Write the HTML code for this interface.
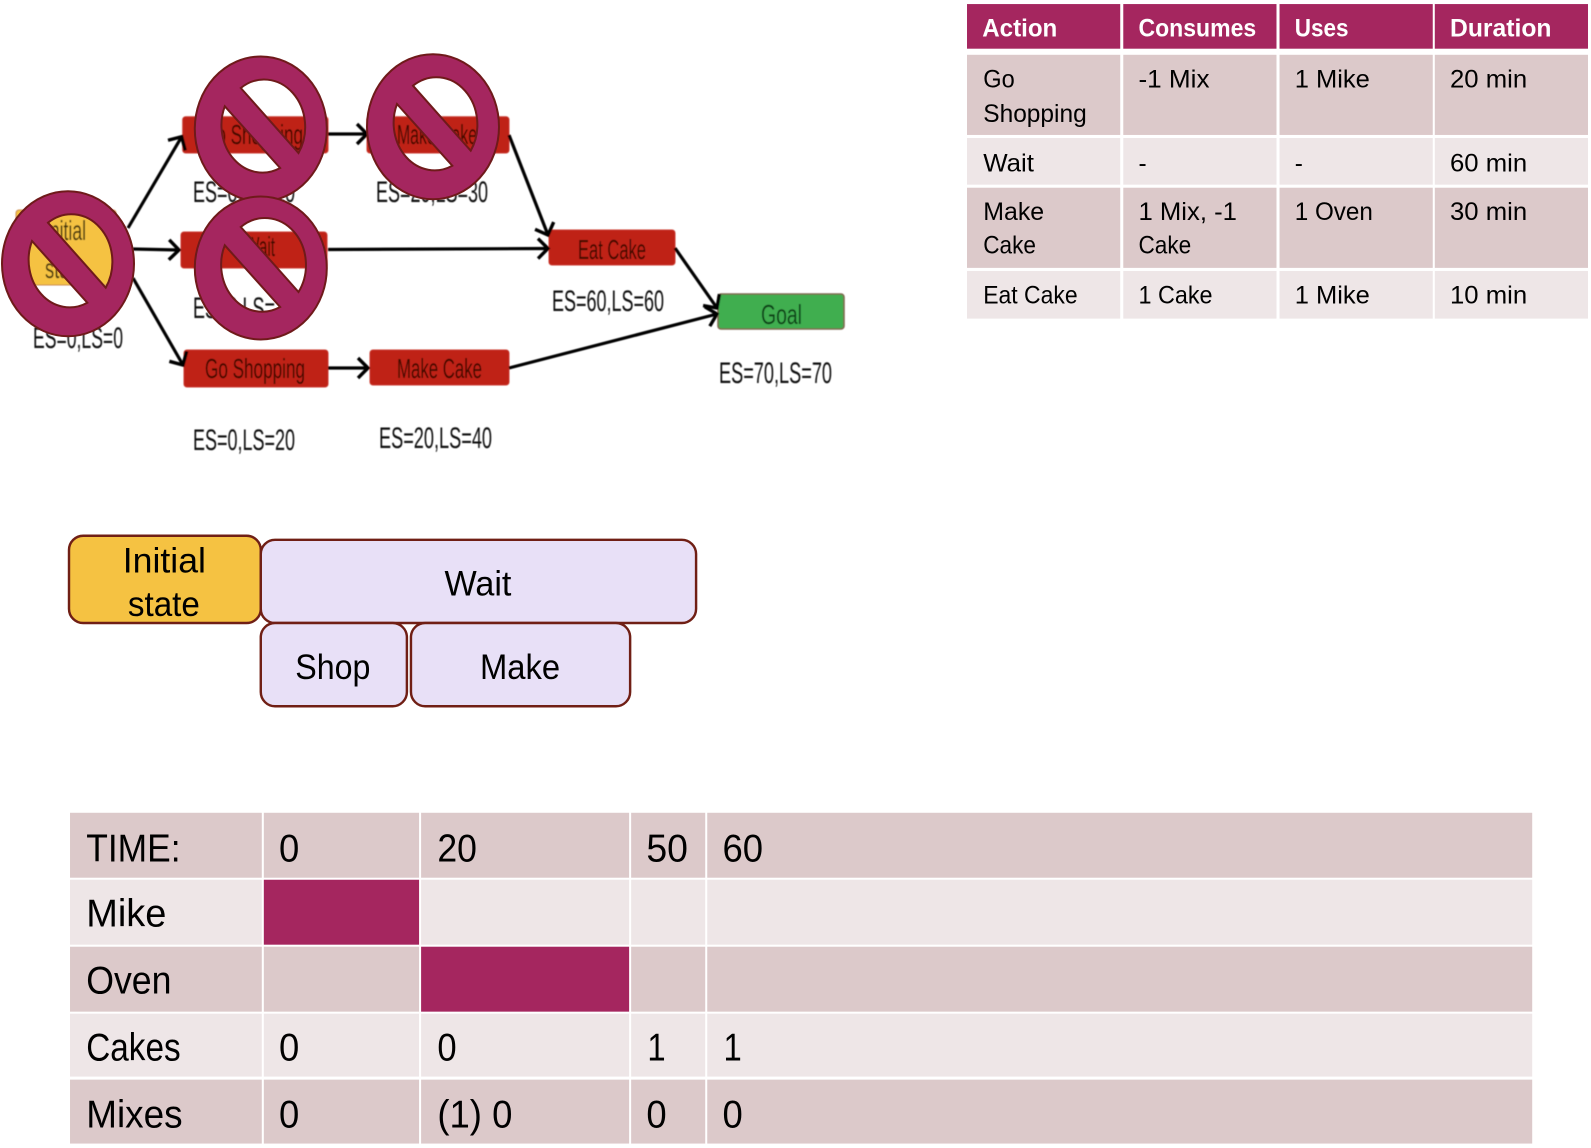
<!DOCTYPE html>
<html><head><meta charset="utf-8"><style>
html,body{margin:0;padding:0;background:#fff;width:1591px;height:1148px;overflow:hidden}
svg{display:block}
text{font-family:"Liberation Sans",sans-serif}
</style></head><body>
<svg width="1591" height="1148" viewBox="0 0 1591 1148" xmlns="http://www.w3.org/2000/svg">
<defs>
<filter id="b" x="-5%" y="-5%" width="110%" height="110%"><feGaussianBlur stdDeviation="0.65"/></filter>
<marker id="a" markerUnits="userSpaceOnUse" markerWidth="24" markerHeight="28" refX="13" refY="14" orient="auto"><path d="M3 4 L13 14 L3 24" fill="none" stroke="#000" stroke-width="3.4"/></marker>
</defs>

<!-- network -->
<g filter="url(#b)">
<g fill="#bf2015" stroke="#c8392e" stroke-width="1">
<rect x="182.7" y="116.7" width="145.3" height="36.3" rx="3"/>
<rect x="367" y="116.7" width="142" height="36.3" rx="3"/>
<rect x="181" y="232" width="146" height="36" rx="3"/>
<rect x="184" y="350" width="144" height="37" rx="3"/>
<rect x="370" y="350" width="139" height="35" rx="3"/>
<rect x="549" y="230" width="126" height="35" rx="3"/>
</g>
<rect x="16" y="210" width="100" height="75" rx="3" fill="#f5c242" stroke="#c98a50"/>
<rect x="718" y="294" width="126" height="35" rx="3" fill="#3fae50" stroke="#7d6a50" stroke-width="1.6"/>
<g stroke="#000" stroke-width="3.2" fill="none">
<line x1="128" y1="228" x2="181.7" y2="136.7" marker-end="url(#a)"/>
<line x1="133" y1="249" x2="179" y2="250" marker-end="url(#a)"/>
<line x1="133" y1="278" x2="183" y2="365" marker-end="url(#a)"/>
<line x1="328" y1="134" x2="367" y2="134" marker-end="url(#a)"/>
<line x1="328" y1="368" x2="368" y2="368" marker-end="url(#a)"/>
<line x1="509" y1="135" x2="548" y2="235" marker-end="url(#a)"/>
<line x1="328" y1="249.5" x2="548" y2="248.5" marker-end="url(#a)"/>
<line x1="675" y1="248" x2="717" y2="308" marker-end="url(#a)"/>
<line x1="509" y1="368" x2="717" y2="314" marker-end="url(#a)"/>
</g>
<g font-size="28" fill="#3d0805">
<text x="203" y="144" textLength="100" lengthAdjust="spacingAndGlyphs">Go Shopping</text>
<text x="397" y="144" textLength="80" lengthAdjust="spacingAndGlyphs">Make Cake</text>
<text x="245" y="256" textLength="30" lengthAdjust="spacingAndGlyphs">Wait</text>
<text x="205" y="378" textLength="100" lengthAdjust="spacingAndGlyphs">Go Shopping</text>
<text x="397" y="378" textLength="85" lengthAdjust="spacingAndGlyphs">Make Cake</text>
<text x="578" y="259" textLength="68" lengthAdjust="spacingAndGlyphs">Eat Cake</text>
<text x="761" y="324" textLength="41" fill="#0a3f14" lengthAdjust="spacingAndGlyphs">Goal</text>
<text x="45" y="240" textLength="41" fill="#3f3208" lengthAdjust="spacingAndGlyphs">Initial</text>
<text x="45" y="278" textLength="40" fill="#3f3208" lengthAdjust="spacingAndGlyphs">state</text>
</g>
<g font-size="30" fill="#111">
<text x="33" y="348" textLength="90" lengthAdjust="spacingAndGlyphs">ES=0,LS=0</text>
<text x="193" y="202" textLength="102" lengthAdjust="spacingAndGlyphs">ES=0,LS=10</text>
<text x="193" y="318" textLength="102" lengthAdjust="spacingAndGlyphs">ES=0,LS=10</text>
<text x="376" y="202" textLength="112" lengthAdjust="spacingAndGlyphs">ES=20,LS=30</text>
<text x="193" y="450" textLength="102" lengthAdjust="spacingAndGlyphs">ES=0,LS=20</text>
<text x="379" y="448" textLength="113" lengthAdjust="spacingAndGlyphs">ES=20,LS=40</text>
<text x="552" y="311" textLength="112" lengthAdjust="spacingAndGlyphs">ES=60,LS=60</text>
<text x="719" y="383" textLength="113" lengthAdjust="spacingAndGlyphs">ES=70,LS=70</text>
</g>
</g>

<!-- prohibition signs -->
<g fill="#a5265f" stroke="#6f1a1a" stroke-width="2" fill-rule="evenodd">
<path transform="translate(260.8 129)" d="M-66,0 A66,72.5 0 1 1 66,0 A66,72.5 0 1 1 -66,0Z M-20,-41 A41,47.5 0 0 1 37.7,24 Z M-36,-22.7 A41,47.5 0 0 0 19.3,39 Z"/>
<path transform="translate(433 126.7)" d="M-66,0 A66,72.5 0 1 1 66,0 A66,72.5 0 1 1 -66,0Z M-20,-41 A41,47.5 0 0 1 37.7,24 Z M-36,-22.7 A41,47.5 0 0 0 19.3,39 Z"/>
<path transform="translate(68 263.7)" d="M-66,0 A66,72.5 0 1 1 66,0 A66,72.5 0 1 1 -66,0Z M-20,-41 A41,47.5 0 0 1 37.7,24 Z M-36,-22.7 A41,47.5 0 0 0 19.3,39 Z"/>
<path transform="translate(260.8 268)" d="M-66,0 A66,71.5 0 1 1 66,0 A66,71.5 0 1 1 -66,0Z M-20,-41 A41,47 0 0 1 37.7,24 Z M-36,-22.7 A41,47 0 0 0 19.3,39 Z"/>
</g>

<g transform="scale(1.0147)">
<!-- action table -->
<g fill="#a5265f">
<rect x="953" y="4" width="151" height="44"/><rect x="1107" y="4" width="151" height="44"/><rect x="1261" y="4" width="151" height="44"/><rect x="1414" y="4" width="151" height="44"/>
</g>
<g fill="#dcc9ca">
<rect x="953" y="54" width="151" height="79"/><rect x="1107" y="54" width="151" height="79"/><rect x="1261" y="54" width="151" height="79"/><rect x="1414" y="54" width="151" height="79"/>
<rect x="953" y="185" width="151" height="79"/><rect x="1107" y="185" width="151" height="79"/><rect x="1261" y="185" width="151" height="79"/><rect x="1414" y="185" width="151" height="79"/>
</g>
<g fill="#eee6e7">
<rect x="953" y="136" width="151" height="46"/><rect x="1107" y="136" width="151" height="46"/><rect x="1261" y="136" width="151" height="46"/><rect x="1414" y="136" width="151" height="46"/>
<rect x="953" y="267" width="151" height="47"/><rect x="1107" y="267" width="151" height="47"/><rect x="1261" y="267" width="151" height="47"/><rect x="1414" y="267" width="151" height="47"/>
</g>
<g font-size="25" font-weight="bold" fill="#fff">
<text x="968" y="36" textLength="74" lengthAdjust="spacingAndGlyphs">Action</text>
<text x="1122" y="36" textLength="116" lengthAdjust="spacingAndGlyphs">Consumes</text>
<text x="1276" y="36" textLength="53" lengthAdjust="spacingAndGlyphs">Uses</text>
<text x="1429" y="36" textLength="100" lengthAdjust="spacingAndGlyphs">Duration</text>
</g>
<g font-size="25" fill="#000">
<text x="969" y="86" textLength="31" lengthAdjust="spacingAndGlyphs">Go</text>
<text x="969" y="120" textLength="102" lengthAdjust="spacingAndGlyphs">Shopping</text>
<text x="1122" y="86" textLength="70" lengthAdjust="spacingAndGlyphs">-1 Mix</text>
<text x="1276" y="86" textLength="74" lengthAdjust="spacingAndGlyphs">1 Mike</text>
<text x="1429" y="86" textLength="76" lengthAdjust="spacingAndGlyphs">20 min</text>
<text x="969" y="169" textLength="50" lengthAdjust="spacingAndGlyphs">Wait</text>
<text x="1122" y="169" textLength="8" lengthAdjust="spacingAndGlyphs">-</text>
<text x="1276" y="169" textLength="8" lengthAdjust="spacingAndGlyphs">-</text>
<text x="1429" y="169" textLength="76" lengthAdjust="spacingAndGlyphs">60 min</text>
<text x="969" y="217" textLength="60" lengthAdjust="spacingAndGlyphs">Make</text>
<text x="969" y="250" textLength="52" lengthAdjust="spacingAndGlyphs">Cake</text>
<text x="1122" y="217" textLength="97" lengthAdjust="spacingAndGlyphs">1 Mix, -1</text>
<text x="1122" y="250" textLength="52" lengthAdjust="spacingAndGlyphs">Cake</text>
<text x="1276" y="217" textLength="77" lengthAdjust="spacingAndGlyphs">1 Oven</text>
<text x="1429" y="217" textLength="76" lengthAdjust="spacingAndGlyphs">30 min</text>
<text x="969" y="299" textLength="93" lengthAdjust="spacingAndGlyphs">Eat Cake</text>
<text x="1122" y="299" textLength="73" lengthAdjust="spacingAndGlyphs">1 Cake</text>
<text x="1276" y="299" textLength="74" lengthAdjust="spacingAndGlyphs">1 Mike</text>
<text x="1429" y="299" textLength="76" lengthAdjust="spacingAndGlyphs">10 min</text>
</g>

<!-- plan boxes -->
<g stroke="#701f15" stroke-width="2.4">
<rect x="68" y="528" width="189" height="86" rx="14" fill="#f5c242"/>
<rect x="257" y="532" width="429" height="82" rx="14" fill="#e8e0f7"/>
<rect x="257" y="614" width="144" height="82" rx="14" fill="#e8e0f7"/>
<rect x="405" y="614" width="216" height="82" rx="14" fill="#e8e0f7"/>
</g>
<g font-size="35" fill="#000">
<text x="121" y="564" textLength="82" lengthAdjust="spacingAndGlyphs">Initial</text>
<text x="126" y="607" textLength="71" lengthAdjust="spacingAndGlyphs">state</text>
<text x="438" y="587" textLength="66" lengthAdjust="spacingAndGlyphs">Wait</text>
<text x="291" y="669" textLength="74" lengthAdjust="spacingAndGlyphs">Shop</text>
<text x="473" y="669" textLength="79" lengthAdjust="spacingAndGlyphs">Make</text>
</g>

<!-- resource table -->
<g fill="#dcc9ca">
<rect x="69" y="801" width="189" height="64"/><rect x="260" y="801" width="153" height="64"/><rect x="415" y="801" width="205" height="64"/><rect x="622" y="801" width="73" height="64"/><rect x="697" y="801" width="813" height="64"/>
<rect x="69" y="933" width="189" height="64"/><rect x="260" y="933" width="153" height="64"/><rect x="622" y="933" width="73" height="64"/><rect x="697" y="933" width="813" height="64"/>
<rect x="69" y="1064" width="189" height="63"/><rect x="260" y="1064" width="153" height="63"/><rect x="415" y="1064" width="205" height="63"/><rect x="622" y="1064" width="73" height="63"/><rect x="697" y="1064" width="813" height="63"/>
</g>
<g fill="#eee6e7">
<rect x="69" y="867" width="189" height="64"/><rect x="415" y="867" width="205" height="64"/><rect x="622" y="867" width="73" height="64"/><rect x="697" y="867" width="813" height="64"/>
<rect x="69" y="999" width="189" height="62"/><rect x="260" y="999" width="153" height="62"/><rect x="415" y="999" width="205" height="62"/><rect x="622" y="999" width="73" height="62"/><rect x="697" y="999" width="813" height="62"/>
</g>
<rect x="260" y="867" width="153" height="64" fill="#a5265f"/>
<rect x="415" y="933" width="205" height="64" fill="#a5265f"/>
<g font-size="38" fill="#000">
<text x="85" y="849" textLength="93" lengthAdjust="spacingAndGlyphs">TIME:</text>
<text x="275" y="849" textLength="20" lengthAdjust="spacingAndGlyphs">0</text>
<text x="431" y="849" textLength="39" lengthAdjust="spacingAndGlyphs">20</text>
<text x="637" y="849" textLength="41" lengthAdjust="spacingAndGlyphs">50</text>
<text x="712" y="849" textLength="40" lengthAdjust="spacingAndGlyphs">60</text>
<text x="85" y="913" textLength="79" lengthAdjust="spacingAndGlyphs">Mike</text>
<text x="85" y="979" textLength="84" lengthAdjust="spacingAndGlyphs">Oven</text>
<text x="85" y="1045" textLength="93" lengthAdjust="spacingAndGlyphs">Cakes</text>
<text x="275" y="1045" textLength="20" lengthAdjust="spacingAndGlyphs">0</text>
<text x="431" y="1045" textLength="19" lengthAdjust="spacingAndGlyphs">0</text>
<text x="638" y="1045" textLength="18" lengthAdjust="spacingAndGlyphs">1</text>
<text x="713" y="1045" textLength="18" lengthAdjust="spacingAndGlyphs">1</text>
<text x="85" y="1111" textLength="95" lengthAdjust="spacingAndGlyphs">Mixes</text>
<text x="275" y="1111" textLength="20" lengthAdjust="spacingAndGlyphs">0</text>
<text x="431" y="1111" textLength="74" lengthAdjust="spacingAndGlyphs">(1) 0</text>
<text x="637" y="1111" textLength="20" lengthAdjust="spacingAndGlyphs">0</text>
<text x="712" y="1111" textLength="20" lengthAdjust="spacingAndGlyphs">0</text>
</g>
</g>
</svg>
</body></html>
